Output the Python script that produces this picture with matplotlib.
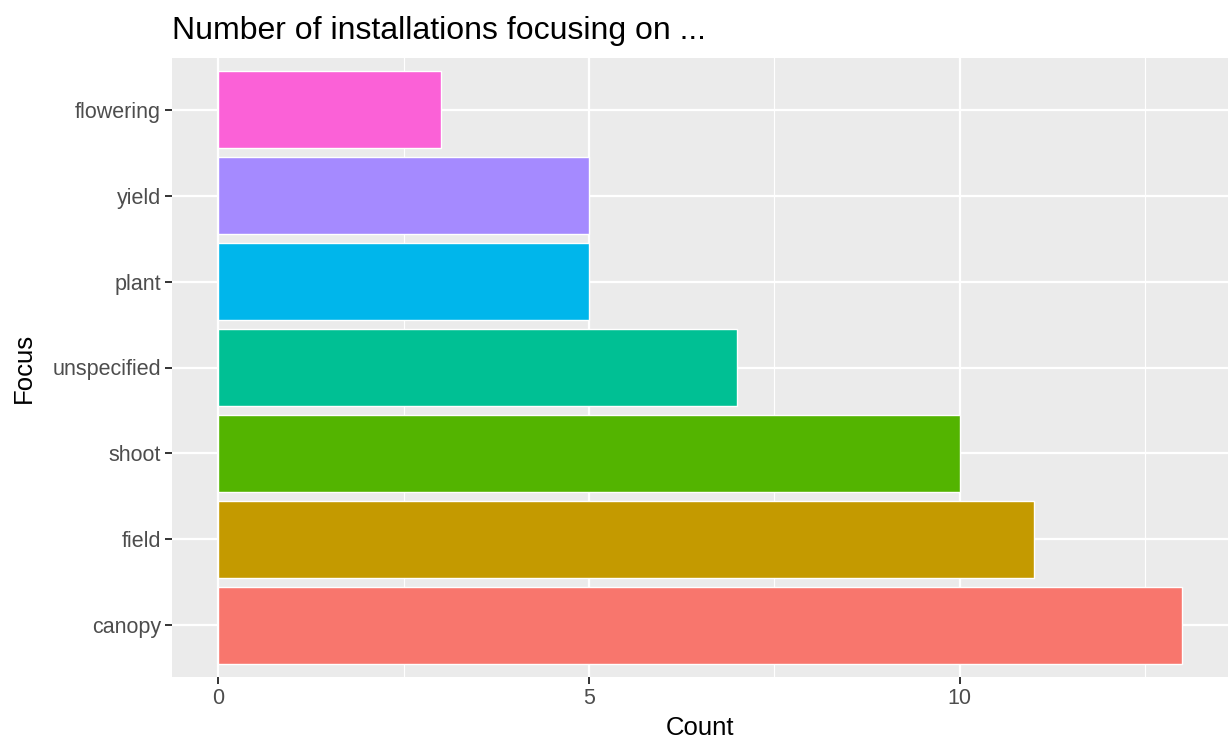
import matplotlib
matplotlib.use("Agg")
import matplotlib.pyplot as plt
import numpy as np

plt.rcParams["font.family"] = ["Liberation Sans", "DejaVu Sans"]

categories = ["canopy", "field", "shoot", "unspecified", "plant", "yield", "flowering"]
counts = [13, 11, 10, 7, 5, 5, 3]
colors = ["#F8766D", "#C49A00", "#53B400", "#00C094", "#00B6EB", "#A58AFF", "#FB61D7"]

fig = plt.figure(figsize=(12.28, 7.4), dpi=100)
ax = fig.add_axes([172/1228, 1-677/740, (1228-172)/1228, (677-58)/740])
ax.set_facecolor("#EBEBEB")

y = np.arange(1, len(categories) + 1)
ax.barh(y, counts, height=0.9, color=colors, edgecolor="white", linewidth=1.0, zorder=3)

ax.set_xlim(-0.625, 13.62)
ax.set_ylim(0.4, len(categories) + 0.6)
ax.set_xticks([0, 5, 10])
ax.set_xticks([2.5, 7.5, 12.5], minor=True)
ax.set_yticks(y)
ax.set_yticklabels(categories)

ax.grid(which="major", color="white", linewidth=1.6, zorder=0)
ax.grid(which="minor", axis="x", color="white", linewidth=0.8, zorder=0)
ax.set_axisbelow(True)
for s in ax.spines.values():
    s.set_visible(False)

ax.tick_params(axis="both", which="major", length=4.8, width=1.4, color="#333333",
               labelcolor="#4D4D4D", labelsize=15.5, pad=3.2)
ax.tick_params(axis="both", which="minor", length=0)

ax.set_xlabel("Count", fontsize=18.5, color="black", labelpad=5)
ax.set_ylabel("Focus", fontsize=18.5, color="black", labelpad=12)
ax.set_title("Number of installations focusing on ...", fontsize=23, loc="left", pad=14)

fig.savefig("out.png", dpi=100)
